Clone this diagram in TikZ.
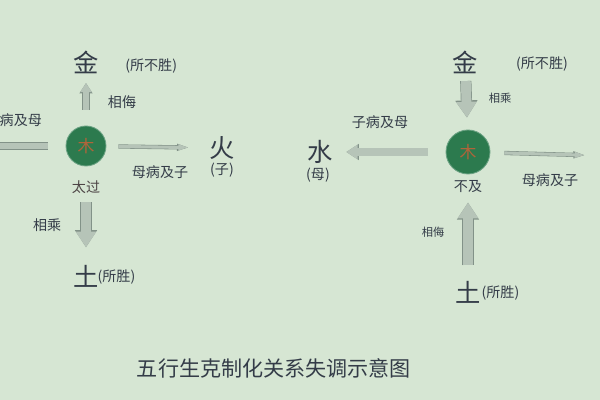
\documentclass[tikz,border=0pt]{standalone}
\usepackage{fontspec}
\setmainfont{Noto Sans CJK SC}
\usepackage{tikz}
\usetikzlibrary{arrows.meta}

\definecolor{bgmint}{RGB}{214,230,211}
\definecolor{ink}{RGB}{52,60,72}
\definecolor{woodgreen}{RGB}{44,122,78}
\definecolor{woodtext}{RGB}{176,100,58}
\definecolor{arrowfill}{RGB}{182,196,184}
\definecolor{arrowedge}{RGB}{130,146,136}

\tikzset{
	element/.style={text=ink, font=\fontsize{18}{20}\selectfont, inner sep=1pt},
	note/.style={text=ink, font=\fontsize{10}{12}\selectfont, inner sep=1pt},
	small note/.style={text=ink, font=\fontsize{8}{9}\selectfont, inner sep=1pt},
	wood/.style={circle, fill=woodgreen, draw=woodgreen!70!white, line width=0.6pt, minimum size=#1, text=woodtext, font=\fontsize{12}{14}\selectfont, inner sep=0pt},
	blockarrow/.style={draw=arrowfill, line width=#1, -{Triangle[length=1.6*#1, width=2*#1]},
		preaction={draw=arrowedge, line width=#1+1pt, -{Triangle[length=1.6*#1+1pt, width=2*#1+1pt]}}},
	plainbar/.style={draw=arrowfill, line width=#1,
		preaction={draw=arrowedge, line width=#1+1pt}},
	spear/.style={draw=arrowfill, line width=2.2pt, -{Stealth[length=8pt, width=3.6pt, inset=0pt]},
		preaction={draw=arrowedge, line width=3pt, -{Stealth[length=9pt, width=4.4pt, inset=0pt]}}}
}

\begin{document}
\begin{tikzpicture}
		\fill[bgmint] (0,0) rectangle (15,10);
		\useasboundingbox (0,0) rectangle (15,10);
		% tai guo
		\node[wood=1cm] (mu1) at (2.15,6.35){木};
		\node[element] (jin1) at (2.15,8.45){金};
		\node[note] (suobusheng1) at (3.78,8.35){(所不胜)};
		\node[note] (xiangwu1) at (3.05,7.45){相侮};
		\node[note] (zibing1) at (0.52,7.0){病及母};
		\coordinate (shui1) at (-0.6,6.35);
		\node[element] (huo1) at (5.55,6.3){火};
		\node[note] (zi1) at (5.55,5.75){(子)};
		\node[note] (mubing1) at (4.0,5.7){母病及子};
		\node[note, text=ink!80!woodtext] (taiguo) at (2.15,5.33){太过};
		\node[note] (xiangcheng1) at (1.18,4.38){相乘};
		\node[element] (tu1) at (2.15,3.1){土};
		\node[note, anchor=west] (suosheng1) at (2.4,3.08){(所胜)};
		\draw[blockarrow=4pt, shorten <=0.4cm, shorten >=0.2cm] (mu1) -- (jin1);
		\draw[plainbar=4pt, shorten <=0.45cm] (mu1) -- (shui1);
		\draw[spear, shorten <=0.3cm, shorten >=0.45cm] (mu1) -- (huo1);
		\draw[blockarrow=7pt, shorten <=0.18cm, shorten >=0.4cm] (taiguo) -- (tu1);
		% bu ji
		\node[wood=1.1cm] (mu2) at (11.7,6.2){木};
		\node[element] (jin2) at (11.63,8.45){金};
		\node[note] (suobusheng2) at (13.55,8.4){(所不胜)};
		\node[small note] (xiangcheng2) at (12.5,7.55){相乘};
		\node[element] (shui2) at (8.0,6.2){水};
		\node[note] (mu2label) at (7.95,5.63){(母)};
		\node[note] (zibing2) at (9.5,6.95){子病及母};
		\coordinate (huo2) at (14.65,6.12);
		\node[note] (mubing2) at (13.75,5.5){母病及子};
		\node[note] (buji) at (11.7,5.33){不及};
		\node[small note] (xiangwu2) at (10.83,4.2){相侮};
		\node[element] (tu2) at (11.7,2.7){土};
		\node[note, anchor=west] (suosheng2) at (12.0,2.68){(所胜)};
		\draw[blockarrow=7pt, shorten <=0.15cm, shorten >=0.3cm] (jin2) -- (mu2);
		\draw[blockarrow=5pt, shorten <=0.45cm, shorten >=0.3cm] (mu2) -- (shui2);
		\draw[spear, shorten <=0.35cm] (mu2) -- (huo2);
		\draw[blockarrow=7pt, shorten <=0.35cm, shorten >=0.2cm] (tu2) -- (buji);
		\node[text=ink, font=\fontsize{15}{17}\selectfont] (title) at (6.85,0.8){五行生克制化关系失调示意图};
	\end{tikzpicture}
\end{document}
